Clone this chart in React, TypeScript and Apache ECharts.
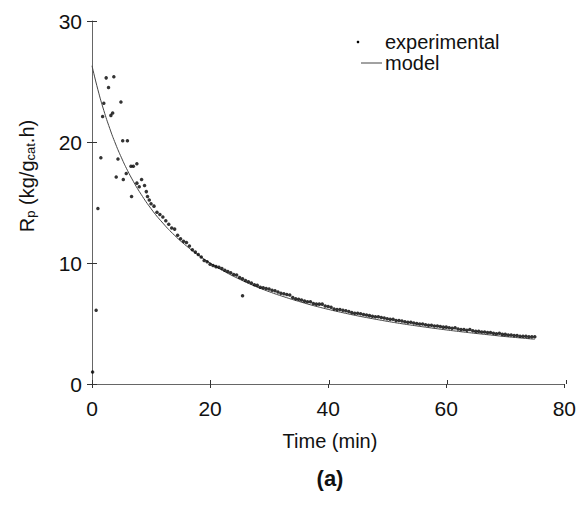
import React, { useEffect, useRef } from "react";
import * as echarts from "echarts";

// Experimental data: time (min) and Rp (kg/gcat.h)
const expTime: number[] = [
  0.1, 0.7, 1.0, 1.5, 1.8, 2.0, 2.4, 2.8, 3.2, 3.5, 3.7, 4.1, 4.4, 4.9, 5.2, 5.3, 5.8, 6.0,
  6.6, 6.7, 7.0, 7.6, 7.6, 8.0, 8.4, 8.9, 9.2, 9.4, 9.7,
  10.0, 10.5, 11.0, 11.5, 12.0, 12.5, 13.0, 13.5, 14.0, 14.5, 15.0, 15.5, 16.0, 16.5, 17.0, 17.5,
  18.0, 18.5, 19.0, 19.5, 20.0, 20.5, 21.0, 21.5, 22.0, 22.5, 23.0, 23.5, 24.0, 24.5, 25.0, 25.5,
  25.5, 26.0, 26.5, 27.0, 27.5, 28.0, 28.5, 29.0, 29.5, 30.0, 30.5, 31.0, 31.5, 32.0, 32.5, 33.0,
  33.5, 34.0, 34.5, 35.0, 35.5, 36.0, 36.5, 37.0, 37.5, 38.0, 38.5, 39.0, 39.5, 40.0, 40.5, 41.0,
  41.5, 42.0, 42.5, 43.0, 43.5, 44.0, 44.5, 45.0, 45.5, 46.0, 46.5, 47.0, 47.5, 48.0, 48.5, 49.0,
  49.5, 50.0, 50.5, 51.0, 51.5, 52.0, 52.5, 53.0, 53.5, 54.0, 54.5, 55.0, 55.5, 56.0, 56.5, 57.0,
  57.5, 58.0, 58.5, 59.0, 59.5, 60.0, 60.5, 61.0, 61.5, 62.0, 62.5, 63.0, 63.5, 64.0, 64.5, 65.0,
  65.5, 66.0, 66.5, 67.0, 67.5, 68.0, 68.5, 69.0, 69.5, 70.0, 70.5, 71.0, 71.5, 72.0, 72.5, 73.0,
  73.5, 74.0, 74.5, 75.0,
];
const expRate: number[] = [
  1.0, 6.1, 14.5, 18.7, 22.1, 23.2, 25.3, 24.5, 22.2, 22.4, 25.4, 17.1, 18.6, 23.3, 20.1, 16.9, 17.4, 20.1,
  18.0, 15.5, 18.0, 18.2, 16.6, 16.3, 16.9, 16.4, 15.9, 15.5, 15.2,
  14.9, 14.7, 14.2, 14.0, 13.8, 13.5, 13.2, 12.9, 12.8, 12.3, 12.0, 11.8, 11.7, 11.4, 11.1, 10.9,
  10.7, 10.5, 10.2, 10.1, 9.9, 9.8, 9.7, 9.65, 9.55, 9.4, 9.3, 9.2, 9.05, 9.0, 8.8, 8.7,
  7.3, 8.55, 8.45, 8.35, 8.2, 8.15, 8.0, 7.95, 7.9, 7.85, 7.75, 7.7, 7.6, 7.5, 7.45, 7.4,
  7.35, 7.15, 7.05, 7.0, 6.95, 6.85, 6.8, 6.8, 6.65, 6.6, 6.6, 6.6, 6.45, 6.4, 6.35, 6.2,
  6.15, 6.15, 6.1, 6.05, 6.0, 5.9, 5.85, 5.85, 5.8, 5.75, 5.7, 5.65, 5.6, 5.55, 5.55, 5.5,
  5.45, 5.4, 5.35, 5.35, 5.25, 5.25, 5.2, 5.15, 5.1, 5.1, 5.05, 5.0, 4.95, 4.95, 4.9, 4.85,
  4.85, 4.8, 4.8, 4.75, 4.7, 4.7, 4.65, 4.6, 4.65, 4.55, 4.5, 4.5, 4.45, 4.5, 4.4, 4.35,
  4.35, 4.3, 4.3, 4.25, 4.25, 4.2, 4.15, 4.2, 4.1, 4.1, 4.05, 4.05, 4.0, 4.0, 3.95, 3.95,
  3.95, 3.9, 3.9, 3.9,
];

// Model curve
const modelTime: number[] = [
  0, 1, 2, 3, 4, 5, 6, 7, 8, 10, 12, 14, 16, 18, 20, 22.5, 25, 27.5, 30, 32.5, 35, 37.5, 40,
  42.5, 45, 47.5, 50, 52.5, 55, 57.5, 60, 62.5, 65, 67.5, 70, 72.5, 75,
];
const modelRate: number[] = [
  26.3, 24.32, 22.61, 21.13, 19.83, 18.69, 17.66, 16.75, 15.92, 14.49, 13.3, 12.28, 11.41, 10.66,
  10.0, 9.28, 8.66, 8.11, 7.63, 7.21, 6.83, 6.48, 6.17, 5.89, 5.63, 5.4, 5.18, 4.98, 4.8, 4.63,
  4.47, 4.32, 4.18, 4.05, 3.92, 3.81, 3.7,
];

const xTicks = { min: 0, max: 80, interval: 20 };
const yTicks = { min: 0, max: 30, interval: 10 };

const legendNames = ["experimental", "model"];
const xTitle = "Time (min)";
const panelLabel = "(a)";

const FONT = "Liberation Sans, Arial, Helvetica, sans-serif";

export default function App() {
  const ref = useRef<HTMLDivElement>(null);
  useEffect(() => {
    if (!ref.current) return;
    const chart = echarts.init(ref.current, null, { renderer: "svg" });
    const gridRect = { left: 92, right: 13, top: 21, bottom: 121 };
    const axisColor = "#666";
    const expData = expTime.map((t, i) => [t, expRate[i]]);
    const modelData = modelTime.map((t, i) => [t, modelRate[i]]);
    chart.setOption({
      animation: false,
      backgroundColor: "#fff",
      grid: [
        { ...gridRect },
        { ...gridRect },
      ],
      xAxis: [
        {
          type: "value",
          gridIndex: 0,
          ...xTicks,
          axisLine: { show: true, lineStyle: { color: axisColor, width: 1 } },
          axisTick: { show: true, inside: false, length: 4, lineStyle: { color: "#333" } },
          axisLabel: { color: "#111", fontSize: 21, fontFamily: FONT, margin: 14 },
          splitLine: { show: false },
        },
        {
          type: "value",
          gridIndex: 1,
          ...xTicks,
          axisLine: { show: false },
          axisTick: { show: true, inside: true, length: 4, lineStyle: { color: "#333" } },
          axisLabel: { show: false },
          splitLine: { show: false },
        },
      ],
      yAxis: [
        {
          type: "value",
          gridIndex: 0,
          ...yTicks,
          axisLine: { show: true, lineStyle: { color: axisColor, width: 1 } },
          axisTick: { show: true, inside: false, length: 5, lineStyle: { color: "#333" } },
          axisLabel: { color: "#111", fontSize: 21, fontFamily: FONT, margin: 10 },
          splitLine: { show: false },
        },
        {
          type: "value",
          gridIndex: 1,
          ...yTicks,
          axisLine: { show: false },
          axisTick: { show: true, inside: true, length: 5, lineStyle: { color: "#333" } },
          axisLabel: { show: false },
          splitLine: { show: false },
        },
      ],
      series: [
        {
          name: legendNames[1],
          type: "line",
          xAxisIndex: 0,
          yAxisIndex: 0,
          data: modelData,
          showSymbol: false,
          smooth: true,
          lineStyle: { color: "#444", width: 1 },
          z: 2,
        },
        {
          name: legendNames[0],
          type: "scatter",
          xAxisIndex: 0,
          yAxisIndex: 0,
          data: expData,
          symbol: "circle",
          symbolSize: 3.5,
          itemStyle: { color: "#000" },
          z: 3,
        },
      ],
      graphic: [
        { type: "circle", shape: { cx: 358, cy: 42, r: 1.3 }, style: { fill: "#000" } },
        {
          type: "text",
          x: 385,
          y: 42,
          style: { text: legendNames[0], font: `20px ${FONT}`, fill: "#111", verticalAlign: "middle" },
        },
        {
          type: "line",
          shape: { x1: 361, y1: 63, x2: 382, y2: 63 },
          style: { stroke: "#444", lineWidth: 1 },
        },
        {
          type: "text",
          x: 385,
          y: 63,
          style: { text: legendNames[1], font: `20px ${FONT}`, fill: "#111", verticalAlign: "middle" },
        },
        {
          type: "text",
          x: 330,
          y: 441,
          style: { text: xTitle, font: `20px ${FONT}`, fill: "#111", align: "center", verticalAlign: "middle" },
        },
        {
          type: "text",
          x: 330,
          y: 478,
          style: { text: panelLabel, font: `bold 22px ${FONT}`, fill: "#111", align: "center", verticalAlign: "middle" },
        },
        {
          type: "text",
          x: 27,
          y: 176,
          rotation: Math.PI / 2,
          style: {
            text: "R{sub|p} (kg/g{sub|cat}.h)",
            font: `20px ${FONT}`,
            fill: "#111",
            align: "center",
            verticalAlign: "middle",
            rich: {
              sub: { fontSize: 13, fontFamily: FONT, fill: "#111", verticalAlign: "bottom", lineHeight: 13, padding: [9, 0, 0, 0] },
            },
          },
        },
      ],
    });
    return () => chart.dispose();
  }, []);
  return (
    <div
      ref={ref}
      style={{ position: "fixed", left: 0, top: 0, width: 579, height: 505, background: "#fff" }}
    />
  );
}
